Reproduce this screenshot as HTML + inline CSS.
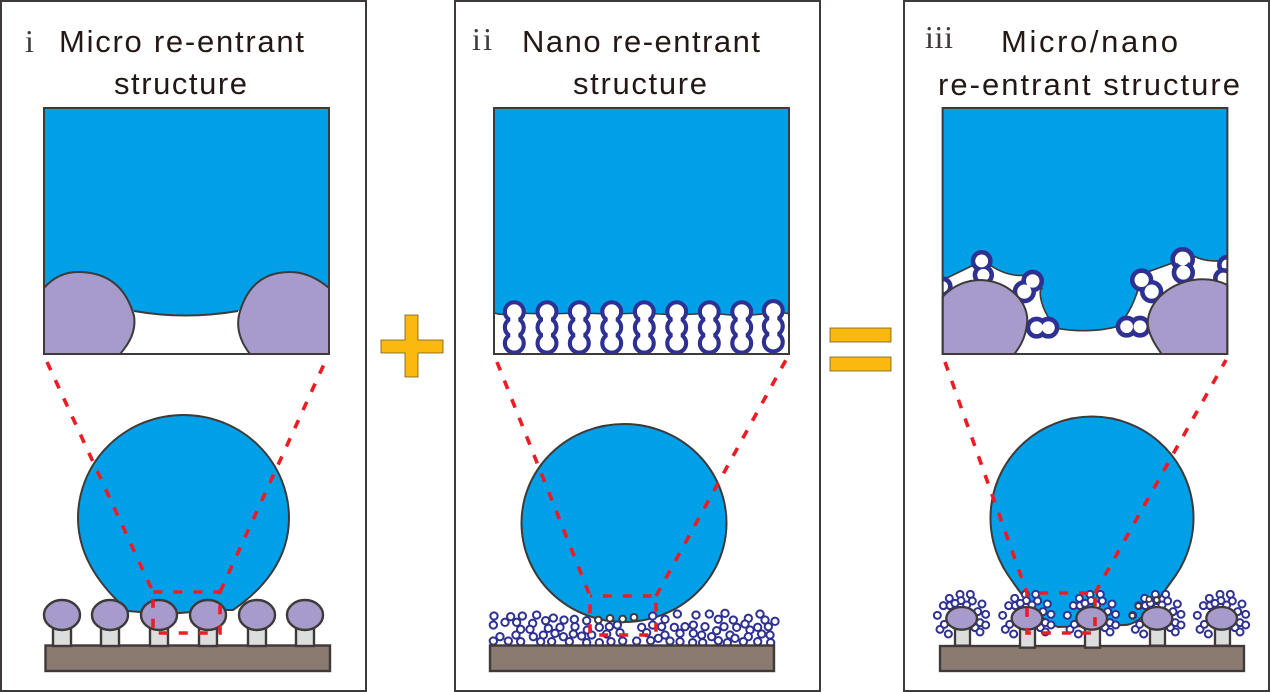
<!DOCTYPE html>
<html><head><meta charset="utf-8"><style>html,body{margin:0;padding:0;background:#fff}svg{display:block}text{font-family:"Liberation Sans",sans-serif;font-size:31px;fill:#231815}.s{font-family:"Liberation Serif",serif;font-size:32px;fill:#3e3a39}.r{fill:none;stroke:#ed1c24;stroke-width:3.6;stroke-dasharray:9 11}</style></head><body>
<svg width="1270" height="692" viewBox="0 0 1270 692" xmlns="http://www.w3.org/2000/svg">
<defs>
<clipPath id="c3"><rect x="23" y="0" width="854" height="372"/></clipPath>
<g id="col" fill="#fff"><g stroke="#2e3192" stroke-width="4.200"><circle cy="0" r="9.400"/><circle cy="15.700" r="9.400"/><circle cy="31.500" r="9.400"/></g><circle cy="0" r="7.300"/><circle cy="15.700" r="7.300"/><circle cy="31.500" r="7.300"/><rect x="-4" y="0" width="8" height="31"/></g>
<g id="m1"><rect x="-9" y="10" width="18" height="21" fill="#dcdddd" stroke="#3e3a39" stroke-width="2.400"/><ellipse cx="0" cy="0" rx="18" ry="15" fill="#a79bcb" stroke="#3e3a39" stroke-width="2.400"/></g>
<g id="cl" fill="#fff" stroke="#2e3192" stroke-width="6"><circle cx="37" cy="121" r="10.500"/><circle cx="45" cy="163" r="10.500"/><circle cx="70" cy="177" r="10.500"/><circle cx="58" cy="148" r="10.500"/><circle cx="55" cy="92" r="10.500"/><circle cx="75" cy="92" r="10.500"/><circle cx="73" cy="70" r="10.500"/><circle cx="105" cy="58" r="10.500"/><circle cx="136" cy="58" r="10.500"/><circle cx="108" cy="77" r="10.500"/><circle cx="142" cy="78" r="10.500"/><circle cx="171" cy="87" r="10.500"/><circle cx="158" cy="110" r="10.500"/><circle cx="182" cy="118" r="10.500"/><circle cx="165" cy="143" r="10.500"/><circle cx="182" cy="150" r="10.500"/><circle cx="150" cy="158" r="10.500"/><circle cx="165" cy="171" r="10.500"/><circle cx="90" cy="85" r="10.500"/><circle cx="125" cy="90" r="10.500"/></g>
<ellipse id="cap" cx="110" cy="130" rx="46" ry="34" fill="#a79bcb" stroke="#3e3a39" stroke-width="7"/>
</defs>
<rect width="1270" height="692" fill="#fff"/>
<g fill="none" stroke="#3e3a39" stroke-width="2"><rect x="1" y="1" width="365" height="690"/><rect x="455" y="1" width="365" height="690"/><rect x="904" y="1" width="365" height="690"/></g>

<text class="s" x="25" y="52">i</text>
<text x="59" y="52" textLength="245" lengthAdjust="spacing">Micro re-entrant</text>
<text x="114" y="94" textLength="133" lengthAdjust="spacing">structure</text>
<text class="s" x="472" y="50" textLength="20" lengthAdjust="spacing">ii</text>
<text x="522" y="52" textLength="238" lengthAdjust="spacing">Nano re-entrant</text>
<text x="573" y="94" textLength="134" lengthAdjust="spacing">structure</text>
<text class="s" x="925" y="48" textLength="28" lengthAdjust="spacing">iii</text>
<text x="1001" y="52" textLength="177" lengthAdjust="spacing">Micro/nano</text>
<text x="938" y="95" textLength="302" lengthAdjust="spacing">re-entrant structure</text>

<!-- panel 1 inset -->
<path d="M44,108H329V290L238,311Q185,320 134,311L44,290Z" fill="#00a0e9"/>
<path d="M134,311Q185,320 238,311" fill="none" stroke="#3e3a39" stroke-width="2"/>
<path d="M44,288Q58,272 78,272Q122,272 134,316Q137,335 120,354L44,354Z" fill="#a79bcb" stroke="#3e3a39" stroke-width="2"/>
<path d="M329,288Q310,272 290,272Q250,272 239,315Q235,335 250,354L329,354Z" fill="#a79bcb" stroke="#3e3a39" stroke-width="2"/>
<rect x="44" y="108" width="285" height="246" fill="none" stroke="#3e3a39" stroke-width="2"/>

<!-- panel 1 lower -->
<path d="M128,611C105,590 78,560 78,518A105.500,103 0 0 1 289,518C289,560 262,590 233,610L215,610L180,613L140,612Z" fill="#00a0e9" stroke="#3e3a39" stroke-width="2"/>
<rect x="45.500" y="645.500" width="284.500" height="25.500" fill="#8a7a70" stroke="#3e3a39" stroke-width="2.400"/>
<use href="#m1" x="62" y="615"/><use href="#m1" x="110" y="615"/><use href="#m1" x="159" y="615"/><use href="#m1" x="208" y="615"/><use href="#m1" x="257" y="615"/><use href="#m1" x="305" y="615"/>
<path class="r" d="M47,362L153,592V633H220V592H153M220,592L325,362"/>

<!-- plus / equals -->
<path d="M405,315H418V340H443V353H418V377H405V353H381V340H405Z" fill="#fbb80f" stroke="#6b5a20" stroke-width=".8"/>
<rect x="830" y="328" width="61" height="14" fill="#fbb80f" stroke="#6b5a20" stroke-width=".8"/>
<rect x="830" y="357" width="61" height="14" fill="#fbb80f" stroke="#6b5a20" stroke-width=".8"/>

<!-- panel 2 inset -->
<path d="M494,108H789V314Q783,312 773,313L741,316L709,313Q680,316 644,313L611,314L579,313L547,314L514,313Q504,316 494,313Z" fill="#00a0e9" stroke="#3e3a39" stroke-width="1.500"/>
<use href="#col" x="514.300" y="311.700"/><use href="#col" x="547" y="311.700"/><use href="#col" x="579.300" y="311.700"/><use href="#col" x="611.700" y="311.700"/><use href="#col" x="644.300" y="311.700"/><use href="#col" x="676.700" y="311.700"/><use href="#col" x="709.300" y="311.700"/><use href="#col" x="741.700" y="311.700"/><use href="#col" x="773.300" y="310.500"/>
<rect x="494" y="108" width="295" height="246" fill="none" stroke="#3e3a39" stroke-width="2"/>

<!-- panel 2 lower -->
<ellipse cx="624" cy="523" rx="102.500" ry="99" fill="#00a0e9" stroke="#3e3a39" stroke-width="2"/>
<g transform="translate(480,590) scale(.33333)" fill="#fff" stroke="#2e3192" stroke-width="6">
<circle cx="42" cy="78" r="11"/><circle cx="40" cy="105" r="11"/><circle cx="75" cy="97" r="11"/><circle cx="92" cy="80" r="11"/><circle cx="127" cy="78" r="11"/><circle cx="110" cy="97" r="11"/><circle cx="170" cy="75" r="11"/><circle cx="158" cy="100" r="11"/><circle cx="197" cy="92" r="11"/><circle cx="220" cy="84" r="11"/><circle cx="252" cy="90" r="11"/><circle cx="283" cy="88" r="11"/><circle cx="320" cy="92" r="11"/>
<circle cx="518" cy="78" r="11"/><circle cx="555" cy="88" r="11"/><circle cx="592" cy="72" r="11"/><circle cx="648" cy="75" r="11"/><circle cx="688" cy="72" r="11"/><circle cx="735" cy="70" r="11"/><circle cx="715" cy="88" r="11"/><circle cx="760" cy="90" r="11"/><circle cx="805" cy="85" r="11"/><circle cx="840" cy="72" r="11"/><circle cx="855" cy="90" r="11"/><circle cx="885" cy="94" r="11"/>
<circle cx="60" cy="140" r="11"/><circle cx="122" cy="118" r="11"/><circle cx="150" cy="118" r="11"/><circle cx="108" cy="135" r="11"/><circle cx="205" cy="115" r="11"/><circle cx="240" cy="112" r="11"/><circle cx="285" cy="110" r="11"/><circle cx="322" cy="120" r="11"/><circle cx="358" cy="112" r="11"/><circle cx="388" cy="110" r="11"/><circle cx="412" cy="105" r="11"/><circle cx="485" cy="112" r="11"/><circle cx="518" cy="105" r="11"/><circle cx="545" cy="110" r="11"/><circle cx="583" cy="112" r="11"/><circle cx="615" cy="110" r="11"/><circle cx="640" cy="105" r="11"/><circle cx="675" cy="110" r="11"/><circle cx="732" cy="110" r="11"/><circle cx="710" cy="122" r="11"/><circle cx="770" cy="112" r="11"/><circle cx="795" cy="102" r="11"/><circle cx="810" cy="120" r="11"/><circle cx="833" cy="112" r="11"/><circle cx="865" cy="110" r="11"/>
<circle cx="160" cy="140" r="11"/><circle cx="190" cy="135" r="11"/><circle cx="225" cy="130" r="11"/><circle cx="250" cy="140" r="11"/><circle cx="280" cy="132" r="11"/><circle cx="305" cy="138" r="11"/><circle cx="335" cy="135" r="11"/><circle cx="380" cy="132" r="11"/><circle cx="420" cy="128" r="11"/><circle cx="500" cy="128" r="11"/><circle cx="535" cy="145" r="11"/><circle cx="555" cy="135" r="11"/><circle cx="600" cy="130" r="11"/><circle cx="640" cy="130" r="11"/><circle cx="665" cy="135" r="11"/><circle cx="695" cy="140" r="11"/><circle cx="750" cy="135" r="11"/><circle cx="765" cy="145" r="11"/><circle cx="805" cy="140" r="11"/><circle cx="845" cy="132" r="11"/><circle cx="870" cy="135" r="11"/>
<circle cx="40" cy="153" r="11"/><circle cx="85" cy="153" r="11"/><circle cx="122" cy="155" r="11"/><circle cx="182" cy="155" r="11"/><circle cx="215" cy="155" r="11"/><circle cx="268" cy="155" r="11"/><circle cx="320" cy="158" r="11"/><circle cx="358" cy="158" r="11"/><circle cx="393" cy="155" r="11"/><circle cx="428" cy="153" r="11"/><circle cx="470" cy="153" r="11"/><circle cx="512" cy="152" r="11"/><circle cx="570" cy="153" r="11"/><circle cx="600" cy="155" r="11"/><circle cx="638" cy="158" r="11"/><circle cx="668" cy="158" r="11"/><circle cx="715" cy="152" r="11"/><circle cx="742" cy="158" r="11"/><circle cx="790" cy="155" r="11"/><circle cx="833" cy="155" r="11"/><circle cx="872" cy="158" r="11"/>
<g stroke="#3e3a39"><circle cx="355" cy="90" r="10"/><circle cx="390" cy="85" r="10"/><circle cx="428" cy="87" r="10"/><circle cx="462" cy="82" r="10"/></g>
</g>
<rect x="490" y="645.500" width="284" height="25.500" fill="#8a7a70" stroke="#3e3a39" stroke-width="2.400"/>
<path class="r" d="M497,362L590,596V635H656V596H590M656,596L787,358"/>

<!-- panel 3 inset -->
<g transform="translate(935,230) scale(.33333)">
<path d="M23,-366H877V90C850,95 810,95 780,80L710,100L640,125L612,170C600,210 580,260 545,290C490,305 420,305 365,295C315,240 310,180 320,175L270,135C240,140 200,130 165,105L110,108L23,150Z" fill="#00a0e9" stroke="#3e3a39" stroke-width="5"/>
<g clip-path="url(#c3)" fill="#fff" stroke="#2e3192" stroke-width="14">
<circle cx="140" cy="93" r="26"/><circle cx="145" cy="135" r="25"/><circle cx="293" cy="153" r="27"/><circle cx="268" cy="185" r="28"/><circle cx="305" cy="293" r="26"/><circle cx="340" cy="293" r="26"/><circle cx="575" cy="290" r="26"/><circle cx="615" cy="290" r="26"/><circle cx="620" cy="150" r="28"/><circle cx="650" cy="185" r="28"/><circle cx="743" cy="88" r="30"/><circle cx="745" cy="128" r="28"/><circle cx="22" cy="170" r="24"/><circle cx="877" cy="105" r="24"/><circle cx="865" cy="145" r="24"/>
<g stroke="none"><circle cx="140" cy="93" r="19"/><circle cx="145" cy="135" r="18"/><circle cx="293" cy="153" r="20"/><circle cx="268" cy="185" r="21"/><circle cx="305" cy="293" r="19"/><circle cx="340" cy="293" r="19"/><circle cx="575" cy="290" r="19"/><circle cx="615" cy="290" r="19"/><circle cx="620" cy="150" r="21"/><circle cx="650" cy="185" r="21"/><circle cx="743" cy="88" r="19"/><circle cx="745" cy="128" r="19"/></g>
</g>
<path d="M23,200Q70,150 140,150C220,155 275,210 277,270C275,310 260,345 238,372L23,372Z" fill="#a79bcb" stroke="#3e3a39" stroke-width="6"/>
<path d="M877,165Q840,145 790,148C710,155 640,210 638,280C640,310 660,345 680,372L877,372Z" fill="#a79bcb" stroke="#3e3a39" stroke-width="6"/>
<rect x="23" y="-366" width="854" height="738" fill="none" stroke="#3e3a39" stroke-width="6"/>
</g>

<!-- panel 3 lower -->
<path d="M1008,575A101.500,101.500 0 1 1 1176,575L1158,600C1150,612 1135,625 1125,625L1058,627C1040,620 1025,600 1008,575Z" fill="#00a0e9" stroke="#3e3a39" stroke-width="2"/>
<g transform="translate(925,575) scale(.33333)">
<rect x="45" y="213" width="912" height="75" fill="#8a7a70" stroke="#3e3a39" stroke-width="7"/>
<g fill="#dcdddd" stroke="#3e3a39" stroke-width="7"><rect x="90" y="160" width="45" height="52"/><rect x="285" y="160" width="45" height="58"/><rect x="480" y="160" width="45" height="58"/><rect x="675" y="160" width="45" height="52"/><rect x="870" y="160" width="45" height="52"/></g>
<use href="#cl"/><use href="#cl" x="196"/><use href="#cl" x="390"/><use href="#cl" x="586"/><use href="#cl" x="780"/>
<g fill="#fff" stroke="#3e3a39" stroke-width="5"><circle cx="640" cy="93" r="8"/><circle cx="622" cy="122" r="8"/><circle cx="672" cy="73" r="8"/><circle cx="695" cy="75" r="8"/></g>
<use href="#cap"/><use href="#cap" x="196"/><use href="#cap" x="390"/><use href="#cap" x="586"/><use href="#cap" x="780"/>
</g>
<path class="r" d="M945,362L1027,593V633H1095V593H1027M1095,593L1226,360"/>
</svg>
</body></html>
